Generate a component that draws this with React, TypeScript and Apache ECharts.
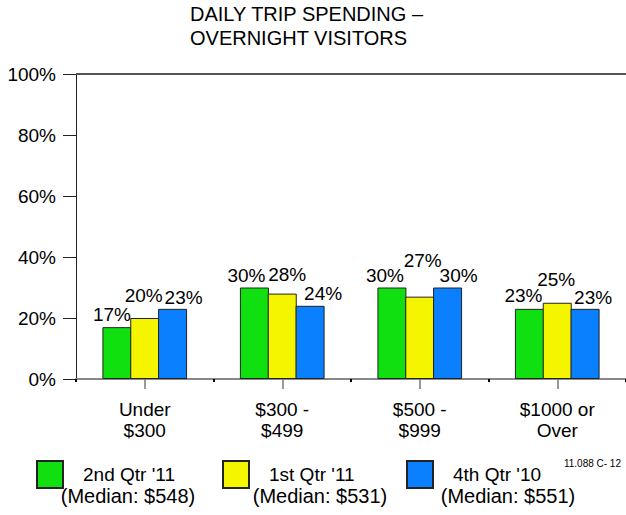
import React, { useEffect, useRef } from "react";
import * as echarts from "echarts";

const categories = ["Under\n$300", "$300 -\n$499", "$500 -\n$999", "$1000 or\nOver"];
const seriesNames = ["2nd Qtr '11", "1st Qtr '11", "4th Qtr '10"];
const medians = ["(Median: $548)", "(Median: $531)", "(Median: $551)"];
const q2_11 = [17, 30, 30, 23];
const q1_11 = [20, 28, 27, 25];
const q4_10 = [23, 24, 30, 23];
const yTicks = [0, 20, 40, 60, 80, 100];
const titleText = "DAILY TRIP SPENDING –\nOVERNIGHT VISITORS";
const codeText = "11.088 C- 12";

// label placement styling per series & category: vertical distance and horizontal nudge
const labelDist = [
  [3, 3, 3, 4],
  [13, 10, 27, 14],
  [2, 3, 3, 2],
];
const labelDx = [
  [-5, -8, -7, -6],
  [-1, 5, 3, -1],
  [11, 13, 11, 8],
];
const colors = ["#10e010", "#f5f500", "#0a80ff"];
const FONT = "Liberation Sans, Arial, sans-serif";

export default function App() {
  const ref = useRef<HTMLDivElement>(null);
  useEffect(() => {
    if (!ref.current) return;
    document.body.style.margin = "0";
    const chart = echarts.init(ref.current, null, { renderer: "svg" });
    const allSeries = [q2_11, q1_11, q4_10];
    const legendLeft = [36, 222, 406];
    const medianCenter = [128, 320, 508];
    chart.setOption({
      animation: false,
      backgroundColor: "#fff",
      textStyle: { fontFamily: FONT },
      title: {
        text: titleText,
        left: 190,
        top: 2,
        padding: 0,
        textStyle: { fontSize: 20, fontWeight: "normal", color: "#000", lineHeight: 24, fontFamily: FONT },
      },
      grid: { left: 76, right: 0, top: 74, bottom: 136 },
      xAxis: [
        {
          type: "category",
          data: categories,
          axisLine: { show: true, lineStyle: { color: "#888", width: 2 } },
          axisTick: { show: true, alignWithLabel: true, length: 10, lineStyle: { color: "#777", width: 1.5 } },
          axisLabel: { fontSize: 19, color: "#000", lineHeight: 21, margin: 20, fontFamily: FONT },
        },
        {
          type: "category",
          data: categories,
          position: "bottom",
          axisLine: { show: false },
          axisTick: { show: true, length: 3, lineStyle: { color: "#000", width: 2 } },
          axisLabel: { show: false },
        },
      ],
      yAxis: {
        type: "value",
        min: yTicks[0],
        max: yTicks[yTicks.length - 1],
        interval: 20,
        axisLine: { show: true, lineStyle: { color: "#222", width: 1 } },
        axisTick: { show: true, inside: false, length: 13, lineStyle: { color: "#222" } },
        axisLabel: { formatter: "{value}%", fontSize: 19, color: "#000", margin: 20, fontFamily: FONT },
        splitLine: { show: false },
      },
      legend: seriesNames.map((n, i) => ({
        data: [{ name: n, icon: "rect" }],
        left: legendLeft[i],
        top: 460,
        padding: 0,
        itemWidth: 26,
        itemHeight: 27,
        textStyle: { fontSize: 19, color: "#000", padding: [0, 0, 0, 15], fontFamily: FONT },
        selectedMode: false,
      })),
      series: allSeries.map((vals, si) => ({
        name: seriesNames[si],
        type: "bar",
        xAxisIndex: 0,
        barWidth: 29,
        barGap: "-4%",
        itemStyle: { color: colors[si], borderColor: "#222", borderWidth: 1 },
        label: {
          show: true,
          position: "top",
          formatter: "{c}%",
          fontSize: 19,
          color: "#000",
          fontFamily: FONT,
        },
        data: vals.map((v, ci) => ({
          value: v,
          label: { distance: labelDist[si][ci], offset: [labelDx[si][ci], 0] },
        })),
        markLine:
          si === 0
            ? {
                silent: true,
                symbol: "none",
                label: { show: false },
                lineStyle: { color: "#555", width: 2, type: "solid" },
                data: [{ yAxis: yTicks[yTicks.length - 1] }],
              }
            : undefined,
      })),
      graphic: [
        ...medians.map((m, i) => ({
          type: "text",
          x: medianCenter[i],
          y: 486,
          style: { text: m, fill: "#000", textAlign: "center", font: `20px ${FONT}` },
        })),
        {
          type: "text",
          x: 621,
          y: 458,
          style: { text: codeText, fill: "#000", textAlign: "right", font: `10px ${FONT}` },
        },
      ],
    });
    return () => chart.dispose();
  }, []);
  return <div ref={ref} style={{ width: 626, height: 515 }} />;
}
